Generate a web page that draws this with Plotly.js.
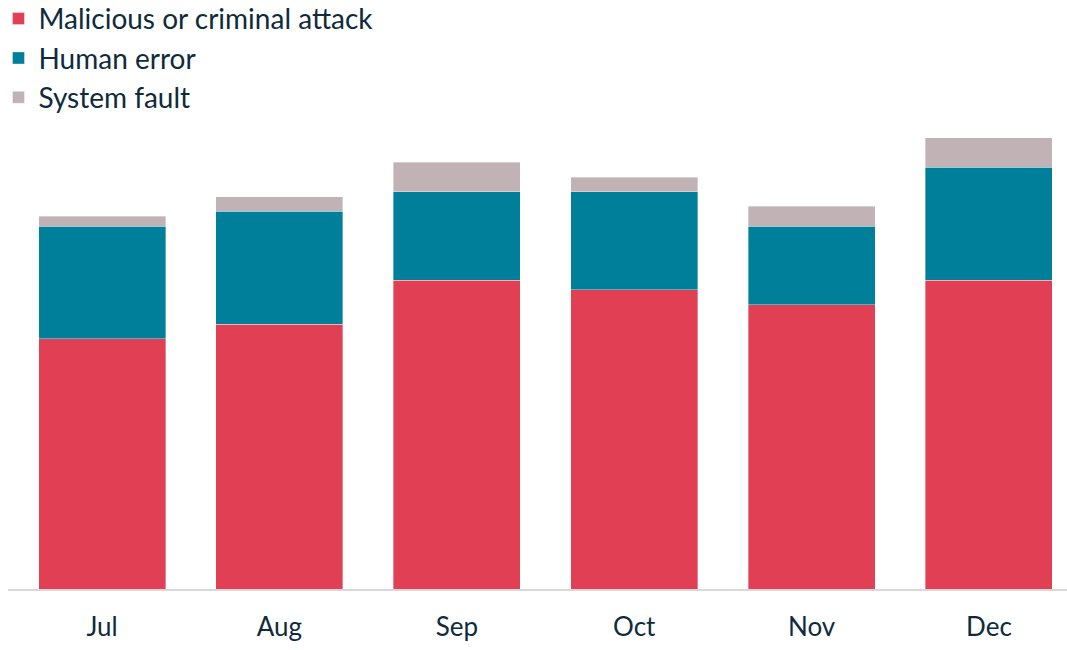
<!DOCTYPE html>
<html>
<head>
<meta charset="utf-8">
<script src="https://cdn.plot.ly/plotly-3.0.1.min.js"></script>
<style>html,body{margin:0;padding:0;background:#fff;}#chart{width:1067px;height:650px;}</style>
</head>
<body>
<div id="chart"></div>
<script>
const months = ["Jul", "Aug", "Sep", "Oct", "Nov", "Dec"];
const malicious = [51, 54, 63, 61, 58, 63];
const humanError = [23, 23, 18, 20, 16, 23];
const systemFault = [2, 3, 6, 3, 4, 6];

const fontFam = 'Lato, "Source Sans Pro", "Noto Sans", sans-serif';
const textCol = '#0e2b3c';

function bar(name, y, color) {
  return {
    type: 'bar', name: name, x: months, y: y,
    marker: {color: color, line: {color: 'rgba(255,255,255,0.6)', width: 0.6}},
    hoverinfo: 'x+y+name'
  };
}

const data = [
  bar('Malicious or criminal attack', malicious, '#E03F54'),
  bar('Human error', humanError, '#007F9A'),
  bar('System fault', systemFault, '#C1B2B5')
];

const layout = {
  width: 1067, height: 650,
  barmode: 'stack',
  bargap: 0.284,
  margin: {l: 8, r: 0, t: 128, b: 61, autoexpand: false},
  paper_bgcolor: '#fff', plot_bgcolor: '#fff',
  font: {family: fontFam, color: textCol, size: 26},
  showlegend: true,
  legend: {
    xref: 'paper', yref: 'paper',
    x: -0.009, y: 1.291, xanchor: 'left', yanchor: 'top',
    orientation: 'v', traceorder: 'normal',
    font: {family: fontFam, size: 28, color: textCol},
    itemwidth: 30, tracegroupgap: 0, bgcolor: 'rgba(0,0,0,0)'
  },
  xaxis: {
    range: [-0.53, 5.44],
    showgrid: false, zeroline: false,
    showline: true, linecolor: '#d9d9d9', linewidth: 2,
    ticks: '', tickfont: {family: fontFam, size: 26, color: textCol},
    ticklabelstandoff: 14
  },
  yaxis: {
    range: [0, 94],
    showgrid: false, zeroline: false, showline: false,
    showticklabels: false, ticks: ''
  }
};

Plotly.newPlot('chart', data, layout, {displayModeBar: false, staticPlot: true});
</script>
</body>
</html>
